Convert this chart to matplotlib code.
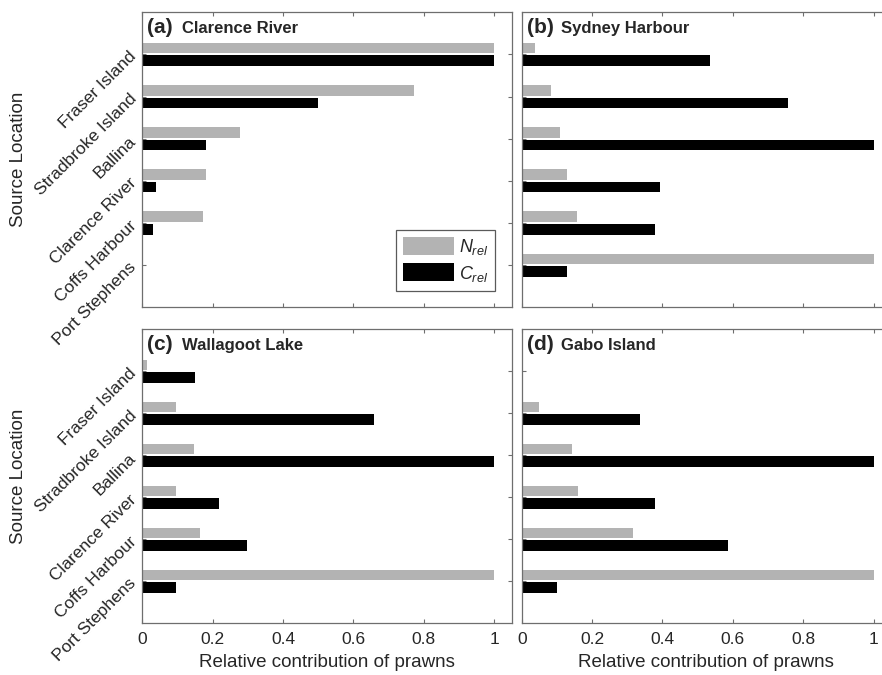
import matplotlib
matplotlib.use("Agg")
import matplotlib.pyplot as plt
import numpy as np
from matplotlib.patches import Patch

plt.rcParams['font.family'] = ['Liberation Sans', 'DejaVu Sans']
plt.rcParams['mathtext.fontset'] = 'custom'
plt.rcParams['mathtext.rm'] = 'Liberation Sans'
plt.rcParams['mathtext.it'] = 'Liberation Sans:italic'

# Source locations (top to bottom)
locations = ['Fraser Island', 'Stradbroke Island', 'Ballina',
             'Clarence River', 'Coffs Harbour', 'Port Stephens']

# Relative contributions per destination site
clarence_N = [1.0, 0.773, 0.278, 0.18, 0.173, 0.0]
clarence_C = [1.0, 0.498, 0.18, 0.04, 0.03, 0.0]
sydney_N = [0.038, 0.083, 0.11, 0.128, 0.158, 1.0]
sydney_C = [0.534, 0.757, 1.0, 0.394, 0.378, 0.128]
wallagoot_N = [0.013, 0.096, 0.147, 0.095, 0.164, 1.0]
wallagoot_C = [0.149, 0.658, 1.0, 0.218, 0.297, 0.097]
gabo_N = [0.0, 0.049, 0.144, 0.16, 0.317, 1.0]
gabo_C = [0.0, 0.335, 1.0, 0.378, 0.585, 0.099]

panel_tags = ['(a)', '(b)', '(c)', '(d)']
panel_names = ['Clarence River', 'Sydney Harbour', 'Wallagoot Lake', 'Gabo Island']
x_ticks = [0, 0.2, 0.4, 0.6, 0.8, 1]
x_ticklabels = ['0', '0.2', '0.4', '0.6', '0.8', '1']

GREY = '#b3b3b3'
TEXT = '#262626'
FRAME = '#6e6e6e'

W, H = 882, 675
fig = plt.figure(figsize=(W / 100, H / 100), dpi=100)

def px_axes(left, top, right, bottom):
    return fig.add_axes([left / W, 1 - bottom / H, (right - left) / W, (bottom - top) / H])

ax_a = px_axes(142.3, 12.3, 511.7, 307.3)
ax_b = px_axes(521.7, 12.3, 891.1, 307.3)
ax_c = px_axes(142.3, 329.3, 511.7, 623.3)
ax_d = px_axes(521.7, 329.3, 891.1, 623.3)
axes = [ax_a, ax_b, ax_c, ax_d]
data = [(clarence_N, clarence_C), (sydney_N, sydney_C),
        (wallagoot_N, wallagoot_C), (gabo_N, gabo_C)]

ypos = np.arange(1, len(locations) + 1)
bar_h = 0.25
off = 0.15

for i, (ax, (nrel, crel)) in enumerate(zip(axes, data)):
    ax.barh(ypos - off, nrel, height=bar_h, color=GREY, zorder=2)
    ax.barh(ypos + off, crel, height=bar_h, color='black', zorder=2)
    ax.set_ylim(7, 0)
    ax.set_xlim(0, 1.05)
    ax.set_yticks(ypos)
    ax.set_xticks(x_ticks)
    ax.tick_params(direction='in', length=3, width=0.8, color=FRAME,
                   top=True, right=True, labelcolor=TEXT, labelsize=12.5, pad=6)
    for s in ax.spines.values():
        s.set_color(FRAME)
        s.set_linewidth(0.9)
    if i % 2 == 0:
        ax.set_yticklabels(locations, rotation=45, ha='right', va='center',
                           rotation_mode='anchor')
        ax.set_ylabel('Source Location', fontsize=13.5, color=TEXT, labelpad=4)
    else:
        ax.set_yticklabels([])
    if i >= 2:
        ax.set_xticklabels(x_ticklabels)
        ax.set_xlabel('Relative contribution of prawns', fontsize=13.5,
                      color=TEXT, labelpad=5)
    else:
        ax.set_xticklabels([])
    ax.text(0.013, 0.929, panel_tags[i], transform=ax.transAxes,
            fontsize=15, fontweight='bold', color=TEXT, va='baseline', ha='left')
    ax.text(0.107, 0.929, panel_names[i], transform=ax.transAxes,
            fontsize=12, fontweight='bold', color=TEXT, va='baseline', ha='left')

handles = [Patch(facecolor=GREY, edgecolor='none'),
           Patch(facecolor='black', edgecolor='none')]
leg = ax_a.legend(handles, [r'$N_{rel}$', r'$C_{rel}$'], loc='lower right',
                  bbox_to_anchor=(0.955, 0.056), fontsize=13,
                  handlelength=2.8, handleheight=1.15, labelspacing=0.35,
                  handletextpad=0.25, borderpad=0.4, borderaxespad=0,
                  fancybox=False, framealpha=1, edgecolor='#5a5a5a')
leg.get_frame().set_linewidth(0.9)
for t in leg.get_texts():
    t.set_color(TEXT)

fig.savefig('out.png', dpi=100)
